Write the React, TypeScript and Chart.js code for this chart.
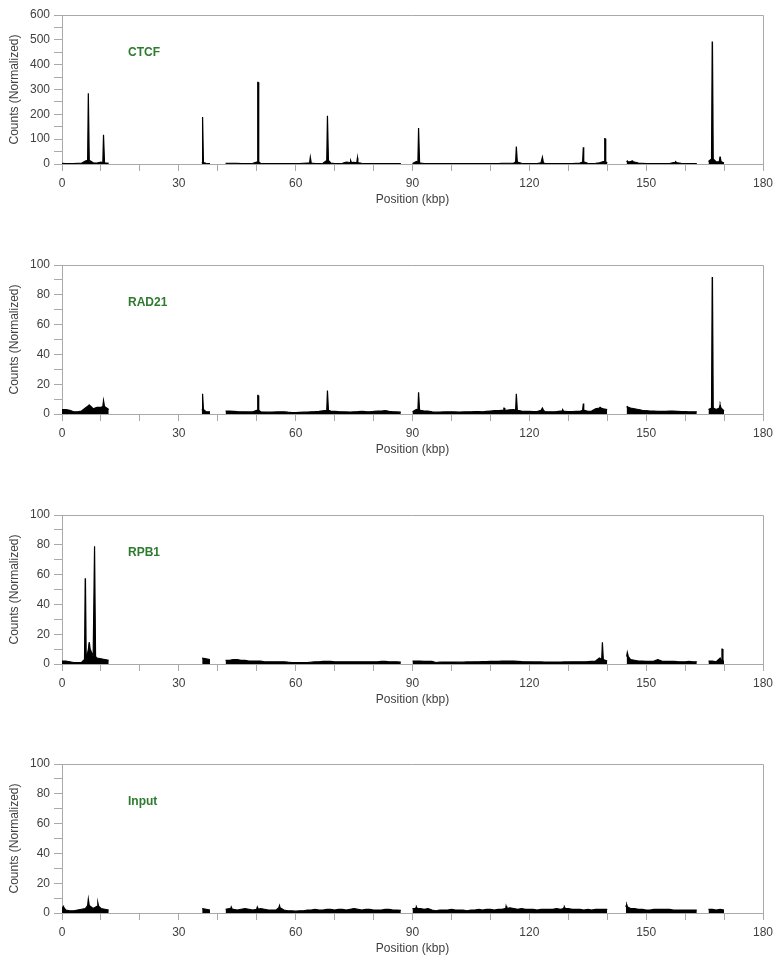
import React, { useEffect, useRef } from 'react';
import { Chart, registerables } from 'chart.js';

Chart.register(...registerables);

// ---------- DATA ----------
const panelNames = ['CTCF', 'RAD21', 'RPB1', 'Input'];
const xTickLabels = [0, 30, 60, 90, 120, 150, 180];
const yMaxes = [600, 100, 100, 100];
const yMajorSteps = [100, 20, 20, 20];

// start (kbp) of each covered region; background values are per 1 kbp
const segmentStarts = [0, 36, 42, 90, 145, 166];

const ctcfBackground = [
  [3, 2, 2, 2, 3, 3, 12, 15, 5, 4, 8, 5, 3],
  [6, 3, 2],
  [3, 3, 3, 3, 2, 2, 2, 3, 8, 3,
   2, 2, 2, 2, 2, 2, 2, 2, 2, 2,
   3, 4, 4, 2, 2, 3, 14, 4, 2, 2,
   3, 8, 6, 7, 5, 3, 2, 2, 2, 2,
   2, 2, 2, 2, 2, 2],
  [2, 10, 4, 2, 2, 2, 2, 2, 2, 2,
   2, 2, 2, 2, 2, 2, 2, 2, 2, 2,
   2, 2, 2, 3, 3, 3, 4, 8, 3, 2,
   2, 2, 2, 5, 2, 2, 2, 2, 2, 2,
   2, 2, 3, 4, 8, 3, 2, 3, 5, 10,
   3],
  [8, 10, 8, 4, 3, 2, 2, 2, 2, 2,
   2, 2, 6, 5, 3, 2, 2, 2, 2],
  [10, 20, 8, 10, 4],
];
const ctcfPeakPositions = [6.8, 10.7, 36.1, 50.3, 63.8, 68.2, 74.1, 75.9, 91.6, 116.7, 123.4, 133.9, 139.4, 145.2, 146.4, 157.6, 167.0, 169.0];
const ctcfPeakHeights = [285, 118, 189, 329, 27, 194, 14, 25, 145, 70, 28, 67, 102, 12, 13, 10, 493, 30];

const rad21Background = [
  [3, 3, 2.5, 1.5, 1.5, 2, 4, 5.5, 3.5, 4.5, 4.5, 5, 3],
  [3, 1.5, 1.5],
  [2, 2, 1.8, 1.6, 1.5, 1.5, 1.4, 1.5, 2.5, 1.5,
   1.3, 1.2, 1.3, 1.4, 1.5, 1.5, 1.2, 1, 1, 1.1,
   1.2, 1.3, 1.5, 1.6, 1.8, 2.2, 2.5, 2, 1.8, 1.6,
   1.5, 1.4, 1.3, 1.5, 1.6, 1.8, 1.6, 1.5, 1.7, 2,
   2, 2.2, 1.8, 1.5, 1.4, 1.2],
  [1.5, 3, 2.5, 2, 2, 1.5, 1.2, 1.3, 1.4, 1.5,
   1.5, 1.4, 1.3, 1.4, 1.5, 1.5, 1.6, 1.6, 1.5, 1.8,
   2, 2.2, 2.3, 2.5, 2.5, 2.8, 3, 2.5, 2, 1.8,
   1.7, 1.6, 1.6, 2.5, 1.6, 1.5, 1.5, 1.6, 2, 1.7,
   1.6, 1.6, 1.7, 1.8, 2.5, 1.8, 2, 3.5, 4, 3.5,
   3],
  [4.5, 4, 3.5, 3, 2.5, 2.2, 2, 2, 1.8, 1.8,
   1.8, 2, 2, 1.8, 1.6, 1.6, 1.5, 1.5, 1.5],
  [3, 4, 3, 4, 2],
];
const rad21PeakPositions = [7.0, 10.7, 36.1, 50.3, 68.2, 91.6, 113.5, 116.7, 123.4, 128.6, 133.9, 138.2, 145.2, 167.0, 169.0];
const rad21PeakHeights = [6, 9, 13.6, 12.5, 15.8, 14.5, 4, 13.6, 4, 3, 7, 4.5, 5, 92, 6];

const rpb1Background = [
  [2, 2, 1.5, 1, 1, 1, 3, 10, 5, 4, 3.5, 3, 2.5],
  [4, 3.5, 3],
  [2.5, 2.5, 3, 3, 2.5, 2.5, 2, 2, 2, 2,
   1.5, 1.5, 1.5, 1.5, 1.5, 1.5, 1.2, 1, 1, 1,
   1, 1, 1.2, 1.5, 1.5, 1.8, 1.8, 1.8, 1.5, 1.5,
   1.5, 1.5, 1.5, 1.5, 1.5, 1.5, 1.5, 1.5, 1.5, 1.5,
   1.8, 1.8, 1.5, 1.5, 1.5, 1.2],
  [2, 2, 2, 1.8, 1.8, 1.8, 1, 1.2, 1.3, 1.3,
   1.3, 1.3, 1.2, 1.2, 1.4, 1.4, 1.5, 1.5, 1.6, 1.6,
   1.8, 1.8, 1.8, 2, 2, 2, 2, 1.8, 1.6, 1.5,
   1.5, 1.4, 1.4, 1.4, 1.3, 1.3, 1.3, 1.3, 1.3, 1.4,
   1.4, 1.5, 1.5, 1.5, 1.5, 1.6, 1.8, 2, 4, 3,
   2],
  [5, 3, 2.5, 2, 2, 1.8, 1.8, 2, 3, 2,
   1.8, 1.8, 1.8, 1.6, 1.5, 1.5, 1.8, 1.5, 1.5],
  [2, 2, 1.5, 4, 2],
];
const rpb1PeakPositions = [6.0, 7.0, 8.4, 138.8, 145.2, 169.5];
const rpb1PeakHeights = [57.6, 14.5, 79, 14.5, 7.8, 10];

const inputBackground = [
  [3, 2, 1.5, 1.5, 2, 2.5, 3, 5, 3, 4.5, 3, 2.5, 2],
  [3, 2.5, 2],
  [2.5, 3, 2.5, 2, 2.5, 3, 2.5, 2, 2.5, 3,
   2.5, 2, 2, 2, 3.5, 2, 1.5, 1.5, 1.2, 1.5,
   1.5, 2, 2, 2.5, 2, 2, 2.5, 2.5, 2, 2.5,
   2.5, 2, 2.5, 3, 2.5, 2, 2.5, 2.5, 2, 2,
   2, 2.5, 2.5, 2, 2, 1.8],
  [3, 3, 3, 2.5, 3, 2, 1.5, 2, 2, 2,
   2.5, 2, 2, 2, 1.5, 2, 2, 2.5, 2, 2.5,
   2.5, 2, 2.5, 2.5, 3, 3.5, 3, 2.5, 3, 2.5,
   2.5, 2.5, 2, 2.5, 2.5, 2.5, 2.5, 3, 2.5, 3,
   3, 2.5, 2.5, 2.5, 2, 2.5, 2, 2.5, 2.5, 2.5,
   2.5],
  [4, 3, 3, 2.5, 2.5, 2, 2, 2.5, 2.5, 2.5,
   2.5, 2.5, 2, 2, 2, 2, 2, 2, 2],
  [2.5, 2.5, 2, 2.5, 2],
];
const inputPeakPositions = [0.4, 6.8, 9.2, 43.5, 50.2, 55.9, 91.0, 114.0, 129.0, 145.0];
const inputPeakHeights = [4.5, 9.4, 7, 4, 4, 5, 4, 4.5, 4, 5.5];

const backgrounds = [ctcfBackground, rad21Background, rpb1Background, inputBackground];
const peakPositions = [ctcfPeakPositions, rad21PeakPositions, rpb1PeakPositions, inputPeakPositions];
const peakHeights = [ctcfPeakHeights, rad21PeakHeights, rpb1PeakHeights, inputPeakHeights];

// ---------- BUILD ----------
const PEAK_HALF_WIDTH = 0.22;

function buildPoints(bg: number[][], pos: number[], hts: number[]) {
  const pts: { x: number; y: number | null }[] = [];
  segmentStarts.forEach((start, s) => {
    const vals = bg[s];
    const end = start + vals.length - 1;
    const seg: { x: number; y: number | null }[] = vals.map((v, j) => ({ x: start + j, y: v }));
    pos.forEach((p, k) => {
      if (p >= start - 0.5 && p <= end + 0.5) {
        const idx = Math.min(vals.length - 1, Math.max(0, Math.round(p - start)));
        const b = vals[idx];
        seg.push(
          { x: p - PEAK_HALF_WIDTH, y: b },
          { x: p - 0.04, y: hts[k] },
          { x: p + 0.04, y: hts[k] },
          { x: p + PEAK_HALF_WIDTH, y: b },
        );
      }
    });
    seg.sort((a, b) => a.x - b.x);
    pts.push(...seg);
    pts.push({ x: end + 0.5, y: null });
  });
  return pts;
}

const FONT = '"Liberation Sans", Arial, Helvetica, sans-serif';
const AXIS_GRAY = '#a9a9a9';
const TEXT = '#404040';

const framePlugin = {
  id: 'frame',
  afterDraw(chart: any, _args: any, opts: any) {
    const { ctx, chartArea } = chart;
    const { left, top, right, bottom } = chartArea;
    ctx.save();
    ctx.strokeStyle = AXIS_GRAY;
    ctx.lineWidth = 1;
    ctx.beginPath();
    ctx.moveTo(left, Math.round(top) + 0.5);
    ctx.lineTo(Math.round(right) + 0.5, Math.round(top) + 0.5);
    ctx.lineTo(Math.round(right) + 0.5, bottom);
    ctx.stroke();
    ctx.font = 'bold 12px ' + FONT;
    ctx.fillStyle = '#2e7a2e';
    ctx.textBaseline = 'middle';
    ctx.textAlign = 'left';
    ctx.fillText(opts.label, left + 66, top + 38);
    ctx.restore();
  },
};

function Panel({ index }: { index: number }) {
  const ref = useRef<HTMLCanvasElement>(null);
  useEffect(() => {
    if (!ref.current) return;
    const yMax = yMaxes[index];
    const major = yMajorSteps[index];
    const chart = new Chart(ref.current, {
      type: 'line',
      data: {
        datasets: [
          {
            data: buildPoints(backgrounds[index], peakPositions[index], peakHeights[index]) as any,
            borderColor: '#000',
            backgroundColor: '#000',
            borderWidth: 1.2,
            pointRadius: 0,
            tension: 0,
            fill: 'origin',
            spanGaps: false,
          },
        ],
      },
      options: {
        animation: false,
        responsive: false,
        events: [],
        layout: { padding: { top: 15, right: 19, left: 0, bottom: 0 } },
        plugins: {
          legend: { display: false },
          tooltip: { enabled: false },
          frame: { label: panelNames[index] },
        } as any,
        scales: {
          x: {
            type: 'linear',
            min: 0,
            max: 180,
            afterFit: (s: any) => { s.height = 86; },
            border: { display: true, color: AXIS_GRAY, width: 1 },
            grid: { display: true, drawOnChartArea: false, drawTicks: true, tickLength: 7, color: AXIS_GRAY },
            ticks: {
              stepSize: 10,
              autoSkip: false,
              maxRotation: 0,
              padding: 5,
              color: TEXT,
              font: { family: FONT, size: 12 },
              callback: (v: any) => (xTickLabels.includes(Number(v)) ? String(v) : ''),
            },
            title: {
              display: true,
              text: 'Position (kbp)',
              color: TEXT,
              font: { family: FONT, size: 12 },
              padding: { top: 0, bottom: 43 },
            },
          },
          y: {
            type: 'linear',
            min: 0,
            max: yMax,
            afterFit: (s: any) => { s.width = 62; },
            border: { display: true, color: AXIS_GRAY, width: 1 },
            grid: { display: true, drawOnChartArea: false, drawTicks: true, tickLength: 8, color: AXIS_GRAY },
            ticks: {
              stepSize: major / 2,
              autoSkip: false,
              padding: 4,
              color: TEXT,
              font: { family: FONT, size: 12 },
              callback: (v: any) => (Number(v) % major === 0 ? String(v) : ''),
            },
            title: {
              display: true,
              text: 'Counts (Normalized)',
              color: TEXT,
              font: { family: FONT, size: 12 },
              padding: { top: 7, bottom: 0 },
            },
          },
        },
      },
      plugins: [framePlugin],
    });
    return () => chart.destroy();
  }, [index]);
  return <canvas ref={ref} width={782} height={250} style={{ display: 'block', width: 782, height: 250 }} />;
}

const panelTops = [0, 250, 500, 749];

export default function App() {
  return (
    <div style={{ position: 'fixed', left: 0, top: 0, width: 782, height: 966, background: '#fff', overflow: 'hidden' }}>
      {panelNames.map((n, i) => (
        <div key={n} style={{ position: 'absolute', left: 0, top: panelTops[i], width: 782, height: 250 }}>
          <Panel index={i} />
        </div>
      ))}
    </div>
  );
}
